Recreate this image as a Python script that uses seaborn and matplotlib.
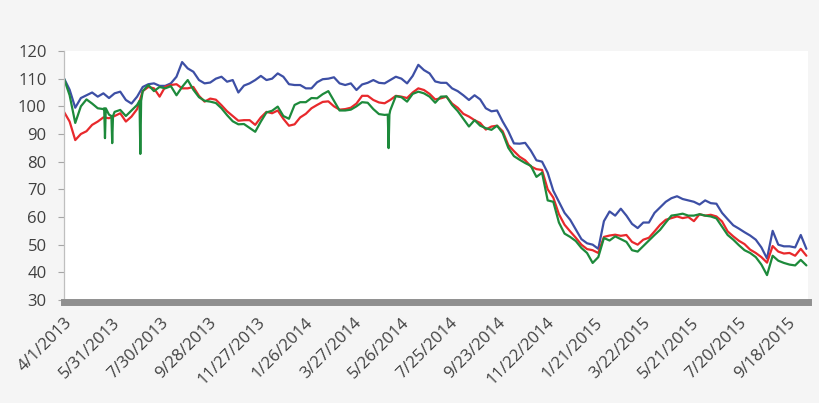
import pandas as pd
import numpy as np
import matplotlib.pyplot as plt
import seaborn as sns

# weekly samples, starting 4/1/2013
weeks = pd.date_range("2013-04-01", periods=133, freq="7D")

blue_vals = [
    110.1, 106, 99.5, 103, 104, 105, 103.5, 104.7, 103, 104.7,
    105.3, 102.3, 101, 103.5, 107, 108, 108.3, 107.4, 107.4, 108.3,
    110.7, 116, 113.7, 112.5, 109.5, 108.3, 108.6, 110, 110.7, 108.9,
    109.5, 105, 107.5, 108.3, 109.5, 111, 109.5, 110, 111.9, 110.7,
    108, 107.7, 107.7, 106.5, 106.5, 108.7, 109.8, 110, 110.5, 108.3,
    107.7, 108.3, 105.9, 107.9, 108.5, 109.5, 108.5, 108.3, 109.5, 110.7,
    110, 108.3, 111, 115, 113.1, 111.9, 109, 108.5, 108.5, 106.5,
    105.5, 104, 102.3, 104, 102.5, 99.3, 98.2, 98.5, 94.5, 91,
    86.6, 86.5, 86.8, 84, 80.5, 80, 76, 69.5, 65.5, 61.5,
    59, 55.5, 52, 50.5, 50, 48.5, 58.5, 62, 60.5, 63,
    60.5, 57.5, 56, 58, 58, 61.5, 63.5, 65.5, 66.8, 67.5,
    66.5, 66, 65.5, 64.5, 66, 65, 64.8, 61.5, 59.2, 57,
    55.8, 54.5, 53.3, 51.8, 49, 45, 55, 50, 49.4, 49.4,
    49, 53.5, 48.5,
]

red_vals = [
    98, 94.5, 87.8, 90, 91, 93.3, 94.5, 96, 95.7, 96.5,
    97.5, 94.5, 96.3, 99, 105.5, 107, 106.5, 103.5, 107.1, 107.7,
    108, 106.5, 106.5, 107, 103.8, 101.7, 102.8, 102.4, 100.4, 98.2,
    96.5, 94.8, 95, 95, 93.3, 96, 98, 97.5, 98.5, 95.5,
    93, 93.5, 96, 97.3, 99.3, 100.5, 101.6, 101.8, 100, 98.8,
    99, 99.5, 101, 103.8, 103.8, 102.3, 101.4, 101.1, 102.3, 103.8,
    103.5, 103, 105, 106.5, 105.9, 104.5, 102.5, 102.9, 103.5, 101,
    99.5, 97.3, 96.3, 95, 94, 91.6, 92.7, 93, 91, 86,
    83.8, 81.8, 80.5, 78.3, 77.3, 77, 70, 67, 61, 57.2,
    54.8, 52.5, 50, 48.4, 48, 47, 52.8, 53.3, 53.6, 53.2,
    53.5, 51, 50, 51.8, 52.5, 54.8, 57.2, 59, 59.6, 60.2,
    59.6, 60, 58.5, 61, 60.5, 60.8, 60.2, 58.4, 54.8, 53,
    51.4, 50.2, 48.2, 47, 45.5, 43.5, 49.5, 47.5, 46.8, 47,
    46, 48.5, 46,
]

green_vals = [
    110, 104, 94, 100, 102.5, 101, 99.3, 99, 97, 98,
    98.7, 96.5, 98.5, 100.5, 105.5, 107.7, 105.5, 107, 106.5, 107.3,
    104, 107, 109.5, 106, 103.3, 102, 101.7, 101.2, 99.3, 96.8,
    94.6, 93.5, 93.6, 92.2, 90.8, 94.5, 97.8, 98.4, 99.9, 96.5,
    95.5, 100.5, 101.5, 101.5, 103, 102.9, 104.4, 105.5, 102, 98.5,
    98.5, 98.8, 100, 101.5, 101.3, 99, 97.2, 96.9, 98.5, 103.7,
    103.3, 101.7, 104.5, 105.3, 104.7, 103.5, 101.3, 103.5, 103.6, 100.5,
    98.3, 95.5, 92.7, 95, 93, 92.1, 91.5, 93, 90.3, 85,
    82, 80.7, 79.5, 78.5, 74.5, 76, 66, 65.5, 58, 54,
    52.8, 51.3, 48.8, 47, 43.4, 45.5, 52.4, 51.5, 53, 52,
    51, 48, 47.5, 49.5, 51.5, 53.5, 55.4, 58, 60.5, 60.8,
    61.2, 60.5, 60.5, 61, 60.5, 60.2, 59.5, 56.5, 53.5, 51.8,
    49.8, 48, 47, 45.5, 42.8, 39, 46, 44.2, 43.4, 42.8,
    42.5, 44.5, 42.5,
]

# one-day drops in the green series
green_spike_dates = [
    "2013-05-21", "2013-05-22", "2013-05-23",
    "2013-05-30", "2013-05-31", "2013-06-01",
    "2013-07-04", "2013-07-05", "2013-07-06",
    "2014-05-09", "2014-05-10", "2014-05-11",
]
green_spike_vals = [
    99.3, 88.5, 99.3,
    96.5, 86.7, 96.5,
    102, 82.8, 102,
    97, 84.9, 97,
]

tick_labels = [
    "4/1/2013", "5/31/2013", "7/30/2013", "9/28/2013", "11/27/2013",
    "1/26/2014", "3/27/2014", "5/26/2014", "7/25/2014", "9/23/2014",
    "11/22/2014", "1/21/2015", "3/22/2015", "5/21/2015", "7/20/2015",
    "9/18/2015",
]

colors = {"A": "#3d4fa5", "B": "#e8292c", "C": "#1d8a3b"}

df = pd.concat([
    pd.DataFrame({"Date": weeks, "Value": blue_vals, "Series": "A"}),
    pd.DataFrame({"Date": weeks, "Value": red_vals, "Series": "B"}),
    pd.DataFrame({"Date": weeks, "Value": green_vals, "Series": "C"}),
    pd.DataFrame({"Date": pd.to_datetime(green_spike_dates),
                  "Value": green_spike_vals, "Series": "C"}),
], ignore_index=True).sort_values(["Series", "Date"])

sns.set_style("white")
plt.rcParams["font.family"] = ["Open Sans", "DejaVu Sans"]

fig = plt.figure(figsize=(8.2, 4.03), dpi=100, facecolor="#f5f5f5")
ax = fig.add_axes([64 / 820, 103 / 403, 744 / 820, 249 / 403])
ax.set_facecolor("white")

# spines first: set_position resets the tick objects
for s in ["top", "right"]:
    ax.spines[s].set_visible(False)
ax.spines["left"].set_color("#bfbfbf")
ax.spines["left"].set_linewidth(0.9)
ax.spines["bottom"].set_color("#8f8f8f")
ax.spines["bottom"].set_linewidth(5)
ax.spines["bottom"].set_position(("outward", 1.5))

sns.lineplot(data=df, x="Date", y="Value", hue="Series", palette=colors,
             hue_order=["A", "B", "C"], estimator=None, sort=True,
             linewidth=1.6, legend=False, ax=ax)

ax.set_xlim(pd.Timestamp("2013-04-01"), pd.Timestamp("2015-10-14"))
ax.set_ylim(30, 120)
ax.set_yticks(range(30, 121, 10))
ax.set_xticks(pd.to_datetime(tick_labels))
ax.set_xticklabels(tick_labels, rotation=45, ha="right", va="top",
                   rotation_mode="anchor")
ax.set_xlabel("")
ax.set_ylabel("")

ax.tick_params(axis="y", length=4.5, width=0.8, color="#a6a6a6", pad=8,
               labelsize=12, labelcolor="#404040", left=True)
ax.tick_params(axis="x", length=0, pad=9, labelsize=12, labelcolor="#404040")

fig.savefig("out.png", dpi=100, facecolor=fig.get_facecolor())
